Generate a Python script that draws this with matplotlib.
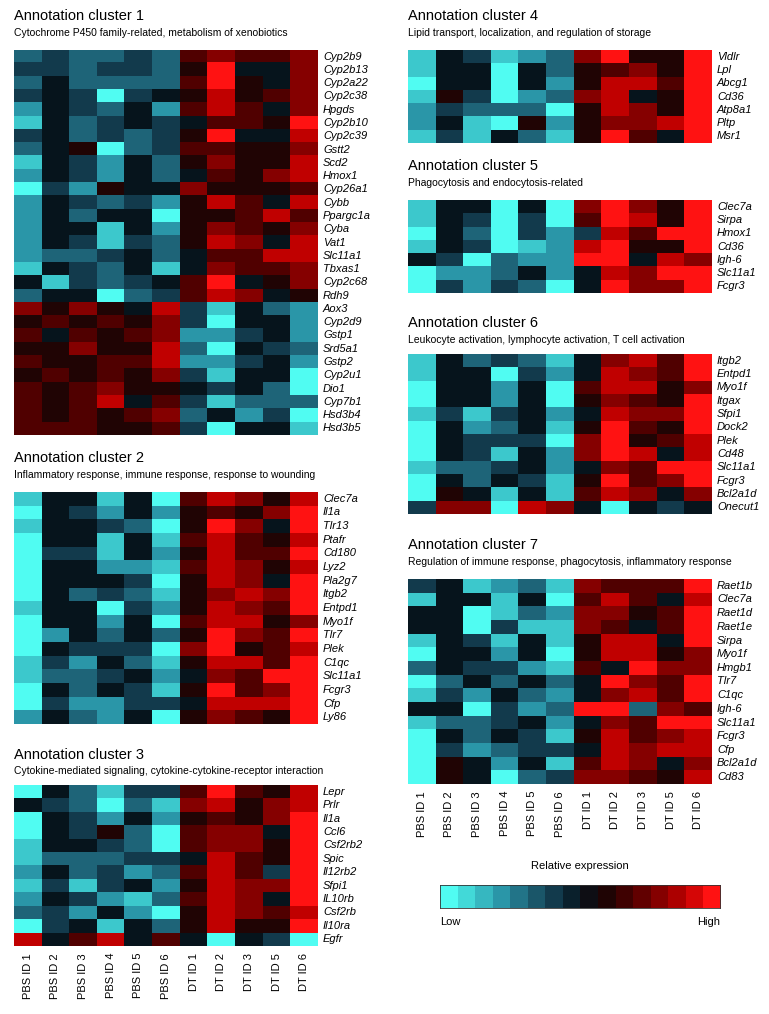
import numpy as np
import matplotlib
matplotlib.use("Agg")
import matplotlib.pyplot as plt
from matplotlib.colors import ListedColormap, LinearSegmentedColormap

plt.rcParams['font.family'] = ['Liberation Sans', 'DejaVu Sans']

# sample columns
samples = ["PBS ID 1", "PBS ID 2", "PBS ID 3", "PBS ID 4", "PBS ID 5", "PBS ID 6",
           "DT ID 1", "DT ID 2", "DT ID 3", "DT ID 5", "DT ID 6"]

# relative expression level, 0 = low (cyan) .. 10 = high (red)
c1_title = "Annotation cluster 1"
c1_sub = "Cytochrome P450 family-related, metabolism of xenobiotics"
c1_genes = ["Cyp2b9", "Cyp2b13", "Cyp2a22", "Cyp2c38", "Hpgds", "Cyp2b10", "Cyp2c39", "Gstt2",
            "Scd2", "Hmox1", "Cyp26a1", "Cybb", "Ppargc1a", "Cyba", "Vat1", "Slc11a1", "Tbxas1",
            "Cyp2c68", "Rdh9", "Aox3", "Cyp2d9", "Gstp1", "Srd5a1", "Gstp2", "Cyp2u1", "Dio1",
            "Cyp7b1", "Hsd3b4", "Hsd3b5"]
c1_vals = [
    [3, 4, 3, 3, 4, 3, 7, 8, 7, 7, 8],
    [4, 4, 3, 4, 4, 3, 6, 10, 5, 5, 8],
    [3, 5, 3, 3, 3, 3, 7, 10, 6, 5, 8],
    [4, 5, 4, 0, 4, 5, 6, 9, 6, 7, 8],
    [2, 5, 4, 3, 5, 2, 7, 9, 7, 5, 8],
    [1, 5, 3, 4, 5, 4, 5, 7, 7, 6, 10],
    [4, 5, 3, 4, 3, 4, 6, 10, 5, 5, 9],
    [3, 5, 6, 0, 3, 4, 7, 7, 6, 6, 8],
    [1, 5, 4, 2, 5, 3, 6, 8, 6, 6, 9],
    [2, 5, 4, 2, 5, 3, 5, 7, 6, 8, 9],
    [0, 4, 2, 6, 5, 5, 8, 6, 6, 6, 7],
    [2, 5, 4, 3, 4, 2, 6, 9, 7, 5, 9],
    [2, 5, 3, 5, 5, 0, 6, 6, 7, 9, 7],
    [2, 5, 5, 1, 5, 2, 6, 8, 7, 6, 8],
    [2, 5, 4, 1, 4, 3, 6, 9, 8, 5, 9],
    [2, 3, 3, 4, 5, 3, 5, 7, 7, 9, 9],
    [1, 5, 4, 3, 5, 1, 5, 8, 7, 7, 8],
    [5, 1, 4, 3, 4, 5, 7, 10, 5, 6, 8],
    [3, 5, 5, 0, 3, 4, 7, 9, 8, 5, 6],
    [8, 6, 8, 6, 5, 9, 4, 1, 5, 3, 2],
    [6, 7, 6, 7, 6, 8, 4, 0, 5, 5, 2],
    [7, 5, 7, 6, 7, 8, 2, 2, 4, 5, 2],
    [6, 6, 8, 6, 6, 9, 3, 0, 5, 4, 3],
    [7, 6, 6, 7, 7, 9, 2, 2, 4, 5, 2],
    [6, 7, 6, 7, 6, 8, 4, 1, 5, 5, 0],
    [7, 6, 7, 8, 6, 6, 5, 4, 5, 3, 0],
    [7, 6, 7, 9, 5, 7, 4, 1, 3, 3, 3],
    [7, 6, 7, 6, 7, 8, 3, 5, 2, 4, 0],
    [7, 7, 7, 6, 6, 7, 4, 0, 5, 5, 1],
]

c2_title = "Annotation cluster 2"
c2_sub = "Inflammatory response, immune response, response to wounding"
c2_genes = ["Clec7a", "Il1a", "Tlr13", "Ptafr", "Cd180", "Lyz2", "Pla2g7", "Itgb2", "Entpd1",
            "Myo1f", "Tlr7", "Plek", "C1qc", "Slc11a1", "Fcgr3", "Cfp", "Ly86"]
c2_vals = [
    [1, 5, 5, 1, 5, 0, 7, 9, 8, 6, 9],
    [0, 5, 4, 2, 5, 2, 6, 7, 6, 8, 10],
    [1, 5, 5, 4, 3, 0, 6, 10, 8, 5, 10],
    [0, 5, 5, 1, 5, 1, 7, 9, 7, 6, 9],
    [0, 4, 4, 1, 5, 2, 6, 9, 7, 7, 10],
    [0, 5, 5, 2, 2, 1, 7, 9, 8, 6, 9],
    [0, 5, 5, 5, 4, 0, 6, 9, 8, 5, 10],
    [0, 5, 3, 4, 3, 1, 6, 8, 9, 8, 10],
    [1, 5, 5, 0, 4, 2, 6, 9, 8, 7, 10],
    [0, 5, 5, 2, 5, 0, 7, 9, 9, 6, 8],
    [0, 2, 5, 3, 5, 3, 6, 10, 8, 7, 10],
    [0, 5, 4, 4, 4, 0, 8, 10, 6, 7, 9],
    [1, 4, 2, 5, 3, 1, 6, 9, 9, 7, 10],
    [1, 3, 3, 4, 5, 2, 5, 8, 7, 10, 10],
    [0, 5, 3, 5, 4, 1, 6, 10, 7, 8, 10],
    [0, 4, 2, 2, 4, 4, 5, 9, 9, 9, 10],
    [2, 5, 3, 2, 5, 0, 6, 8, 7, 6, 10],
]

c3_title = "Annotation cluster 3"
c3_sub = "Cytokine-mediated signaling, cytokine-cytokine-receptor interaction"
c3_genes = ["Lepr", "Prlr", "Il1a", "Ccl6", "Csf2rb2", "Spic", "Il12rb2", "Sfpi1", "IL10rb",
            "Csf2rb", "Il10ra", "Egfr"]
c3_vals = [
    [0, 5, 3, 1, 4, 4, 7, 10, 7, 6, 9],
    [5, 4, 3, 0, 3, 1, 8, 9, 6, 8, 9],
    [0, 5, 4, 2, 5, 2, 6, 7, 6, 8, 10],
    [0, 5, 4, 6, 3, 0, 7, 8, 8, 5, 10],
    [1, 5, 5, 4, 3, 0, 7, 8, 8, 6, 10],
    [1, 3, 3, 3, 4, 4, 5, 9, 7, 6, 10],
    [2, 5, 3, 4, 2, 3, 7, 9, 7, 4, 10],
    [1, 4, 1, 4, 5, 2, 6, 9, 8, 8, 10],
    [2, 5, 4, 2, 1, 3, 7, 9, 8, 5, 10],
    [3, 4, 2, 5, 2, 0, 6, 9, 8, 7, 9],
    [0, 4, 5, 1, 5, 3, 6, 9, 6, 6, 10],
    [9, 5, 7, 9, 5, 7, 5, 0, 5, 4, 0],
]

c4_title = "Annotation cluster 4"
c4_sub = "Lipid transport, localization, and regulation of storage"
c4_genes = ["Vldlr", "Lpl", "Abcg1", "Cd36", "Atp8a1", "Pltp", "Msr1"]
c4_vals = [
    [1, 5, 4, 1, 2, 3, 8, 10, 6, 6, 10],
    [1, 5, 5, 0, 5, 3, 6, 7, 8, 6, 10],
    [0, 5, 5, 0, 5, 2, 6, 9, 9, 7, 10],
    [1, 6, 4, 0, 2, 3, 8, 9, 5, 6, 10],
    [2, 4, 3, 3, 3, 0, 6, 9, 8, 6, 10],
    [2, 5, 1, 0, 6, 2, 6, 8, 8, 9, 10],
    [1, 4, 1, 5, 3, 1, 6, 10, 7, 5, 10],
]

c5_title = "Annotation cluster 5"
c5_sub = "Phagocytosis and endocytosis-related"
c5_genes = ["Clec7a", "Sirpa", "Hmox1", "Cd36", "Igh-6", "Slc11a1", "Fcgr3"]
c5_vals = [
    [1, 5, 5, 0, 5, 0, 8, 10, 8, 6, 10],
    [1, 5, 4, 0, 4, 0, 7, 10, 9, 6, 10],
    [0, 5, 3, 0, 4, 2, 4, 9, 7, 10, 10],
    [1, 5, 4, 0, 1, 2, 9, 10, 6, 6, 10],
    [5, 4, 0, 3, 2, 2, 10, 10, 5, 9, 8],
    [0, 2, 2, 3, 5, 2, 5, 9, 8, 10, 10],
    [0, 4, 2, 4, 3, 0, 5, 10, 8, 8, 10],
]

c6_title = "Annotation cluster 6"
c6_sub = "Leukocyte activation, lymphocyte activation, T cell activation"
c6_genes = ["Itgb2", "Entpd1", "Myo1f", "Itgax", "Sfpi1", "Dock2", "Plek", "Cd48", "Slc11a1",
            "Fcgr3", "Bcl2a1d", "Onecut1"]
c6_vals = [
    [1, 5, 3, 4, 3, 1, 5, 8, 9, 7, 10],
    [1, 5, 5, 0, 4, 2, 5, 9, 8, 7, 10],
    [0, 5, 5, 2, 5, 0, 7, 9, 9, 6, 8],
    [0, 5, 5, 2, 5, 0, 6, 8, 7, 6, 10],
    [1, 4, 1, 4, 5, 2, 5, 9, 8, 8, 10],
    [0, 5, 2, 3, 5, 1, 6, 10, 7, 6, 10],
    [0, 5, 4, 4, 4, 0, 8, 10, 6, 7, 9],
    [0, 5, 4, 1, 5, 2, 8, 10, 9, 5, 9],
    [1, 3, 3, 4, 5, 2, 5, 8, 7, 10, 10],
    [0, 5, 3, 5, 4, 1, 6, 10, 7, 8, 10],
    [0, 6, 5, 1, 5, 1, 7, 9, 8, 5, 8],
    [4, 8, 8, 0, 9, 8, 5, 0, 5, 4, 5],
]

c7_title = "Annotation cluster 7"
c7_sub = "Regulation of immune response, phagocytosis, inflammatory response"
c7_genes = ["Raet1b", "Clec7a", "Raet1d", "Raet1e", "Sirpa", "Myo1f", "Hmgb1", "Tlr7", "C1qc",
            "Igh-6", "Slc11a1", "Fcgr3", "Cfp", "Bcl2a1d", "Cd83"]
c7_vals = [
    [4, 5, 1, 2, 3, 1, 8, 7, 7, 7, 10],
    [1, 5, 5, 1, 5, 0, 7, 9, 7, 5, 9],
    [5, 5, 0, 1, 3, 2, 8, 8, 6, 7, 10],
    [5, 5, 0, 4, 1, 1, 8, 7, 5, 7, 10],
    [1, 5, 4, 1, 5, 1, 6, 9, 9, 5, 10],
    [0, 5, 5, 2, 5, 0, 6, 9, 9, 6, 8],
    [3, 5, 4, 4, 2, 1, 7, 5, 10, 8, 8],
    [0, 3, 5, 3, 5, 3, 5, 10, 8, 7, 10],
    [1, 4, 2, 5, 3, 2, 5, 8, 9, 7, 10],
    [5, 5, 0, 4, 2, 3, 10, 10, 3, 8, 7],
    [1, 3, 3, 4, 5, 2, 5, 8, 7, 10, 10],
    [0, 5, 3, 5, 4, 1, 6, 9, 7, 8, 9],
    [0, 4, 2, 3, 4, 4, 5, 9, 8, 9, 9],
    [0, 6, 5, 2, 5, 1, 7, 9, 8, 5, 8],
    [0, 6, 5, 0, 3, 4, 8, 8, 7, 6, 9],
]

level_colors = ["#50fcf2", "#3cc8cc", "#2a96a8", "#1e6478", "#123a4c", "#06141c",
                "#200404", "#500000", "#850000", "#c00000", "#ff1212"]
cmap = ListedColormap(level_colors)

W, H = 769, 1014
fig = plt.figure(figsize=(W / 100, H / 100), dpi=100)


def px_axes(x0, y0, x1, y1):
    return fig.add_axes([x0 / W, 1 - y1 / H, (x1 - x0) / W, (y1 - y0) / H])


def draw_cluster(x0, x1, ytitle, ysub, y0, y1, title, sub, genes, vals, xlabels=False):
    fig.text(x0 / W, 1 - ytitle / H, title, fontsize=10.5, va='center', ha='left')
    fig.text(x0 / W, 1 - ysub / H, sub, fontsize=7.5, va='center', ha='left')
    ax = px_axes(x0, y0, x1, y1)
    ax.imshow(np.array(vals), cmap=cmap, vmin=-0.5, vmax=10.5, aspect='auto',
              interpolation='nearest')
    ax.set_xticks([])
    ax.set_yticks([])
    for s in ax.spines.values():
        s.set_visible(False)
    row_h = (y1 - y0) / len(genes)
    for i, g in enumerate(genes):
        fig.text((x1 + 5) / W, 1 - (y0 + (i + 0.5) * row_h) / H, g, fontsize=8,
                 style='italic', va='center', ha='left')
    if xlabels:
        col_w = (x1 - x0) / len(samples)
        for j, s in enumerate(samples):
            fig.text((x0 + (j + 0.5) * col_w) / W, 1 - (y1 + 7) / H, s, fontsize=8,
                     rotation=90, va='top', ha='center')


draw_cluster(14, 318, 16, 33, 50, 435, c1_title, c1_sub, c1_genes, c1_vals)
draw_cluster(14, 318, 458, 475, 492, 724, c2_title, c2_sub, c2_genes, c2_vals)
draw_cluster(14, 318, 755, 771, 785, 946, c3_title, c3_sub, c3_genes, c3_vals, xlabels=True)
draw_cluster(408, 712, 16, 33, 50, 143, c4_title, c4_sub, c4_genes, c4_vals)
draw_cluster(408, 712, 166, 183, 200, 293, c5_title, c5_sub, c5_genes, c5_vals)
draw_cluster(408, 712, 323, 340, 354, 514, c6_title, c6_sub, c6_genes, c6_vals)
draw_cluster(408, 712, 545, 562, 579, 784, c7_title, c7_sub, c7_genes, c7_vals, xlabels=True)

# colour key
bar_cmap = LinearSegmentedColormap.from_list("key", level_colors)
cax = px_axes(440, 885, 720, 908)
cax.imshow(np.linspace(0, 1, 16)[None, :], cmap=bar_cmap, aspect='auto',
           interpolation='nearest')
cax.set_xticks([])
cax.set_yticks([])
for s in cax.spines.values():
    s.set_linewidth(0.6)
    s.set_color('#333333')
fig.text(580 / W, 1 - 866 / H, "Relative expression", fontsize=8, ha='center', va='center')
fig.text(440 / W, 1 - 922 / H, "Low", fontsize=8, ha='left', va='center')
fig.text(720 / W, 1 - 922 / H, "High", fontsize=8, ha='right', va='center')

fig.savefig("out.png", dpi=100)
